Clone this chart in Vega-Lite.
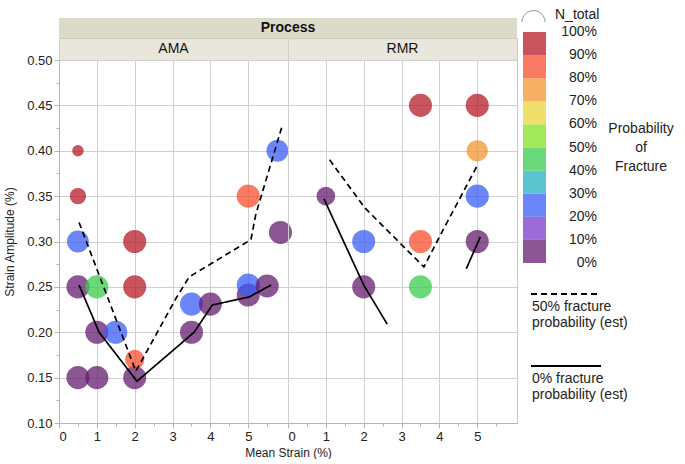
{
  "$schema": "https://vega.github.io/schema/vega-lite/v6.json",
  "padding": {"left": 3, "top": 5, "right": 0, "bottom": 0},
  "config": {
    "font": "Liberation Sans",
    "axis": {"domainColor": "#b5b5b5", "tickColor": "#b5b5b5", "labelFontSize": 13, "labelColor": "#222", "titleFontSize": 12, "titleFontWeight": "normal", "titleColor": "#222", "labelOverlap": false},
    "legend": {"labelColor": "#222", "titleColor": "#222"}
  },
  "datasets": {
    "pts": [
      {"Process": "AMA", "x": 0.5, "y": 0.40, "Prob": 1.0, "N_total": 2.5},
      {"Process": "AMA", "x": 0.5, "y": 0.35, "Prob": 1.0, "N_total": 5},
      {"Process": "AMA", "x": 0.5, "y": 0.30, "Prob": 0.25, "N_total": 9},
      {"Process": "AMA", "x": 0.5, "y": 0.25, "Prob": 0, "N_total": 10},
      {"Process": "AMA", "x": 0.5, "y": 0.15, "Prob": 0, "N_total": 10},
      {"Process": "AMA", "x": 1, "y": 0.25, "Prob": 0.45, "N_total": 10},
      {"Process": "AMA", "x": 1, "y": 0.20, "Prob": 0, "N_total": 10},
      {"Process": "AMA", "x": 1, "y": 0.15, "Prob": 0, "N_total": 10},
      {"Process": "AMA", "x": 1.5, "y": 0.20, "Prob": 0.25, "N_total": 10},
      {"Process": "AMA", "x": 2, "y": 0.30, "Prob": 1.0, "N_total": 10},
      {"Process": "AMA", "x": 2, "y": 0.25, "Prob": 1.0, "N_total": 10},
      {"Process": "AMA", "x": 2, "y": 0.15, "Prob": 0, "N_total": 10},
      {"Process": "AMA", "x": 2, "y": 0.17, "Prob": 0.85, "N_total": 7},
      {"Process": "AMA", "x": 3.5, "y": 0.231, "Prob": 0.25, "N_total": 10},
      {"Process": "AMA", "x": 3.5, "y": 0.20, "Prob": 0, "N_total": 10},
      {"Process": "AMA", "x": 4, "y": 0.231, "Prob": 0, "N_total": 10},
      {"Process": "AMA", "x": 5, "y": 0.35, "Prob": 0.85, "N_total": 10},
      {"Process": "AMA", "x": 5, "y": 0.241, "Prob": 0, "N_total": 10},
      {"Process": "AMA", "x": 5, "y": 0.252, "Prob": 0.25, "N_total": 10},
      {"Process": "AMA", "x": 5.5, "y": 0.251, "Prob": 0, "N_total": 10},
      {"Process": "AMA", "x": 5.77, "y": 0.40, "Prob": 0.25, "N_total": 9},
      {"Process": "AMA", "x": 5.85, "y": 0.31, "Prob": 0, "N_total": 10},
      {"Process": "RMR", "x": 1, "y": 0.35, "Prob": 0, "N_total": 6.5},
      {"Process": "RMR", "x": 2, "y": 0.30, "Prob": 0.25, "N_total": 10},
      {"Process": "RMR", "x": 2, "y": 0.25, "Prob": 0, "N_total": 10},
      {"Process": "RMR", "x": 3.5, "y": 0.45, "Prob": 1.0, "N_total": 10},
      {"Process": "RMR", "x": 3.5, "y": 0.30, "Prob": 0.85, "N_total": 10},
      {"Process": "RMR", "x": 3.5, "y": 0.25, "Prob": 0.45, "N_total": 10},
      {"Process": "RMR", "x": 5, "y": 0.45, "Prob": 1.0, "N_total": 10},
      {"Process": "RMR", "x": 5, "y": 0.40, "Prob": 0.75, "N_total": 8.5},
      {"Process": "RMR", "x": 5, "y": 0.35, "Prob": 0.25, "N_total": 10},
      {"Process": "RMR", "x": 5, "y": 0.30, "Prob": 0, "N_total": 10}
    ],
    "lines": [
      {"Process": "AMA", "seg": "a0", "Type": "0% fracture probability (est)", "i": 1, "x": 0.53, "y": 0.252},
      {"Process": "AMA", "seg": "a0", "Type": "0% fracture probability (est)", "i": 2, "x": 1.06, "y": 0.200},
      {"Process": "AMA", "seg": "a0", "Type": "0% fracture probability (est)", "i": 3, "x": 2.06, "y": 0.146},
      {"Process": "AMA", "seg": "a0", "Type": "0% fracture probability (est)", "i": 4, "x": 3.57, "y": 0.200},
      {"Process": "AMA", "seg": "a0", "Type": "0% fracture probability (est)", "i": 5, "x": 4.05, "y": 0.230},
      {"Process": "AMA", "seg": "a0", "Type": "0% fracture probability (est)", "i": 6, "x": 5.03, "y": 0.239},
      {"Process": "AMA", "seg": "a0", "Type": "0% fracture probability (est)", "i": 7, "x": 5.6, "y": 0.252},
      {"Process": "AMA", "seg": "a50", "Type": "50% fracture probability (est)", "i": 1, "x": 0.53, "y": 0.321},
      {"Process": "AMA", "seg": "a50", "Type": "50% fracture probability (est)", "i": 2, "x": 2.03, "y": 0.157},
      {"Process": "AMA", "seg": "a50", "Type": "50% fracture probability (est)", "i": 3, "x": 3.1, "y": 0.238},
      {"Process": "AMA", "seg": "a50", "Type": "50% fracture probability (est)", "i": 4, "x": 3.44, "y": 0.261},
      {"Process": "AMA", "seg": "a50", "Type": "50% fracture probability (est)", "i": 5, "x": 5.07, "y": 0.302},
      {"Process": "AMA", "seg": "a50", "Type": "50% fracture probability (est)", "i": 6, "x": 5.2, "y": 0.33},
      {"Process": "AMA", "seg": "a50", "Type": "50% fracture probability (est)", "i": 7, "x": 5.9, "y": 0.428},
      {"Process": "RMR", "seg": "r0a", "Type": "0% fracture probability (est)", "i": 1, "x": 0.95, "y": 0.347},
      {"Process": "RMR", "seg": "r0a", "Type": "0% fracture probability (est)", "i": 2, "x": 2.0, "y": 0.252},
      {"Process": "RMR", "seg": "r0a", "Type": "0% fracture probability (est)", "i": 3, "x": 2.62, "y": 0.209},
      {"Process": "RMR", "seg": "r0b", "Type": "0% fracture probability (est)", "i": 1, "x": 4.71, "y": 0.270},
      {"Process": "RMR", "seg": "r0b", "Type": "0% fracture probability (est)", "i": 2, "x": 5.08, "y": 0.305},
      {"Process": "RMR", "seg": "r50", "Type": "50% fracture probability (est)", "i": 1, "x": 1.1, "y": 0.39},
      {"Process": "RMR", "seg": "r50", "Type": "50% fracture probability (est)", "i": 2, "x": 2.03, "y": 0.337},
      {"Process": "RMR", "seg": "r50", "Type": "50% fracture probability (est)", "i": 3, "x": 3.59, "y": 0.272},
      {"Process": "RMR", "seg": "r50", "Type": "50% fracture probability (est)", "i": 4, "x": 4.1, "y": 0.313},
      {"Process": "RMR", "seg": "r50", "Type": "50% fracture probability (est)", "i": 5, "x": 5.03, "y": 0.386}
    ]
  },
  "columns": 2,
  "spacing": 0,
  "bounds": "flush",
  "concat": [
    {
      "width": 229, "height": 20,
      "data": {"values": [{"t": ""}]},
      "view": {"fill": "#dcdbc9", "stroke": null},
      "mark": {"type": "text"},
      "encoding": {"text": {"field": "t"}}
    },
    {
      "width": 229, "height": 20,
      "data": {"values": [{"t": "Process"}]},
      "view": {"fill": "#dcdbc9", "stroke": null},
      "mark": {"type": "text", "fontWeight": "bold", "fontSize": 14, "color": "#111", "baseline": "middle", "align": "center"},
      "encoding": {
        "text": {"field": "t"},
        "x": {"datum": 0, "type": "quantitative", "scale": {"domain": [0, 1]}, "axis": null}
      }
    },
    {
      "width": 229, "height": 22,
      "data": {"values": [{"t": "AMA"}]},
      "view": {"fill": "#e9e7dc", "stroke": "#cfcdc0"},
      "mark": {"type": "text", "fontSize": 14, "color": "#111", "baseline": "middle"},
      "encoding": {"text": {"field": "t"}}
    },
    {
      "width": 229, "height": 22,
      "data": {"values": [{"t": "RMR"}]},
      "view": {"fill": "#e9e7dc", "stroke": "#cfcdc0"},
      "mark": {"type": "text", "fontSize": 14, "color": "#111", "baseline": "middle"},
      "encoding": {"text": {"field": "t"}}
    },
    {
      "width": 229, "height": 363,
      "view": {"stroke": "#c4c4c4"},
      "resolve": {"axis": {"x": "independent", "y": "independent"}},
      "layer": [
        {
          "data": {"name": "pts"},
          "transform": [{"filter": "datum.Process === 'AMA'"}],
          "mark": {"type": "circle", "opacity": 0.75},
          "encoding": {
            "x": {"field": "x", "type": "quantitative", "scale": {"domain": [0, 6.05], "nice": false, "zero": false},
              "axis": {"orient": "bottom", "values": [0, 1, 2, 3, 4, 5], "format": "d", "gridColor": "#d0d0d0", "tickSize": 5, "title": "Mean Strain (%)", "titleX": 229}},
            "y": {"field": "y", "type": "quantitative", "scale": {"domain": [0.1, 0.5], "nice": false, "zero": false},
              "axis": {"orient": "left", "values": [0.1, 0.15, 0.2, 0.25, 0.3, 0.35, 0.4, 0.45, 0.5], "format": ".2f", "gridColor": "#d0d0d0", "tickSize": 5, "title": "Strain Amplitude (%)", "titlePadding": 10}},
            "color": {"field": "Prob", "type": "quantitative",
              "scale": {"type": "quantize", "domain": [0, 1], "nice": false, "range": ["#661c6f", "#7b3bc8", "#385ef6", "#26afc0", "#3acc4e", "#84e023", "#e8d638", "#f29630", "#fa4e2e", "#b51c27"]},
              "legend": {"type": "gradient", "orient": "none", "legendX": 464, "legendY": 14, "direction": "vertical", "gradientLength": 231, "gradientThickness": 23, "gradientOpacity": 0.75, "values": [0, 0.1, 0.2, 0.3, 0.4, 0.5, 0.6, 0.7, 0.8, 0.9, 1], "format": ".0%", "labelFontSize": 14, "labelOffset": 51, "labelOverlap": false, "labelExpr": "abs(datum.value - 0.1) < 0.001 ? ['10%', '0%'] : datum.label", "title": ["Probability", "of", "Fracture"], "titleOrient": "right", "titleFontSize": 14, "titleFontWeight": "normal", "titleAlign": "center", "titleLineHeight": 19, "encoding": {"labels": {"align": {"value": "right"}, "baseline": {"value": "middle"}, "lineHeight": {"value": 23}}, "title": {"angle": {"value": 0}, "align": {"value": "center"}, "baseline": {"value": "middle"}, "dx": {"value": 39}}}}},
            "size": {"field": "N_total", "type": "quantitative", "scale": {"domain": [0, 10], "range": [0, 531]},
              "legend": {"orient": "none", "legendX": 462, "legendY": -13, "values": [10], "title": "N_total", "titleOrient": "right", "titleFontSize": 14, "titleFontWeight": "normal", "labelExpr": "''", "symbolType": "M-1,0.4A1,1 0 0 1 1,0.4", "symbolFillColor": "transparent", "symbolStrokeColor": "#777", "symbolStrokeWidth": 1}}
          }
        },
        {
          "data": {"name": "lines"},
          "transform": [{"filter": "datum.Process === 'AMA'"}],
          "mark": {"type": "line", "color": "black", "strokeWidth": 1.7},
          "encoding": {
            "x": {"field": "x", "type": "quantitative",
              "axis": {"orient": "bottom", "values": [0.5, 1.5, 2.5, 3.5, 4.5, 5.5], "labels": false, "domain": false, "gridColor": "#e8e8e8", "tickSize": 3, "title": null}},
            "y": {"field": "y", "type": "quantitative",
              "axis": {"orient": "left", "values": [0.125, 0.175, 0.225, 0.275, 0.325, 0.375, 0.425, 0.475], "labels": false, "domain": false, "gridColor": "#e8e8e8", "tickSize": 3, "title": null}},
            "detail": {"field": "seg"},
            "order": {"field": "i"},
            "strokeDash": {"field": "Type", "type": "nominal",
              "scale": {"domain": ["50% fracture probability (est)", "0% fracture probability (est)"], "range": [[6, 4], [1, 0]]},
              "legend": {"orient": "none", "legendX": 471, "legendY": 240, "title": null, "symbolType": "stroke", "symbolStrokeColor": "black", "symbolStrokeWidth": 2, "symbolSize": 4900, "labelFontSize": 14, "labelOffset": -70, "labelBaseline": "top", "labelExpr": "datum.value == '50% fracture probability (est)' ? ['50% fracture', 'probability (est)'] : ['0% fracture', 'probability (est)']", "rowPadding": -21, "encoding": {"labels": {"dy": {"value": 6}}}}}
          }
        }
      ]
    },
    {
      "width": 229, "height": 363,
      "view": {"stroke": "#c4c4c4"},
      "resolve": {"axis": {"x": "independent", "y": "independent"}},
      "layer": [
        {
          "data": {"name": "pts"},
          "transform": [{"filter": "datum.Process === 'RMR'"}],
          "mark": {"type": "circle", "opacity": 0.75},
          "encoding": {
            "x": {"field": "x", "type": "quantitative", "scale": {"domain": [0, 6.05], "nice": false, "zero": false},
              "axis": {"orient": "bottom", "values": [0, 1, 2, 3, 4, 5], "format": "d", "gridColor": "#d0d0d0", "tickSize": 5, "title": null}},
            "y": {"field": "y", "type": "quantitative", "scale": {"domain": [0.1, 0.5], "nice": false, "zero": false},
              "axis": {"orient": "left", "values": [0.1, 0.15, 0.2, 0.25, 0.3, 0.35, 0.4, 0.45, 0.5], "labels": false, "ticks": false, "domain": false, "gridColor": "#d0d0d0", "title": null}},
            "color": {"field": "Prob", "type": "quantitative",
              "scale": {"type": "quantize", "domain": [0, 1], "nice": false, "range": ["#661c6f", "#7b3bc8", "#385ef6", "#26afc0", "#3acc4e", "#84e023", "#e8d638", "#f29630", "#fa4e2e", "#b51c27"]},
              "legend": {"type": "gradient", "orient": "none", "legendX": 464, "legendY": 14, "direction": "vertical", "gradientLength": 231, "gradientThickness": 23, "gradientOpacity": 0.75, "values": [0, 0.1, 0.2, 0.3, 0.4, 0.5, 0.6, 0.7, 0.8, 0.9, 1], "format": ".0%", "labelFontSize": 14, "labelOffset": 51, "labelOverlap": false, "labelExpr": "abs(datum.value - 0.1) < 0.001 ? ['10%', '0%'] : datum.label", "title": ["Probability", "of", "Fracture"], "titleOrient": "right", "titleFontSize": 14, "titleFontWeight": "normal", "titleAlign": "center", "titleLineHeight": 19, "encoding": {"labels": {"align": {"value": "right"}, "baseline": {"value": "middle"}, "lineHeight": {"value": 23}}, "title": {"angle": {"value": 0}, "align": {"value": "center"}, "baseline": {"value": "middle"}, "dx": {"value": 39}}}}},
            "size": {"field": "N_total", "type": "quantitative", "scale": {"domain": [0, 10], "range": [0, 531]},
              "legend": {"orient": "none", "legendX": 462, "legendY": -13, "values": [10], "title": "N_total", "titleOrient": "right", "titleFontSize": 14, "titleFontWeight": "normal", "labelExpr": "''", "symbolType": "M-1,0.4A1,1 0 0 1 1,0.4", "symbolFillColor": "transparent", "symbolStrokeColor": "#777", "symbolStrokeWidth": 1}}
          }
        },
        {
          "data": {"name": "lines"},
          "transform": [{"filter": "datum.Process === 'RMR'"}],
          "mark": {"type": "line", "color": "black", "strokeWidth": 1.7},
          "encoding": {
            "x": {"field": "x", "type": "quantitative",
              "axis": {"orient": "bottom", "values": [0.5, 1.5, 2.5, 3.5, 4.5, 5.5], "labels": false, "domain": false, "gridColor": "#e8e8e8", "tickSize": 3, "title": null}},
            "y": {"field": "y", "type": "quantitative",
              "axis": {"orient": "left", "values": [0.125, 0.175, 0.225, 0.275, 0.325, 0.375, 0.425, 0.475], "labels": false, "ticks": false, "domain": false, "gridColor": "#e8e8e8", "title": null}},
            "detail": {"field": "seg"},
            "order": {"field": "i"},
            "strokeDash": {"field": "Type", "type": "nominal",
              "scale": {"domain": ["50% fracture probability (est)", "0% fracture probability (est)"], "range": [[6, 4], [1, 0]]},
              "legend": {"orient": "none", "legendX": 471, "legendY": 240, "title": null, "symbolType": "stroke", "symbolStrokeColor": "black", "symbolStrokeWidth": 2, "symbolSize": 4900, "labelFontSize": 14, "labelOffset": -70, "labelBaseline": "top", "labelExpr": "datum.value == '50% fracture probability (est)' ? ['50% fracture', 'probability (est)'] : ['0% fracture', 'probability (est)']", "rowPadding": -21, "encoding": {"labels": {"dy": {"value": 6}}}}}
          }
        }
      ]
    }
  ]
}
